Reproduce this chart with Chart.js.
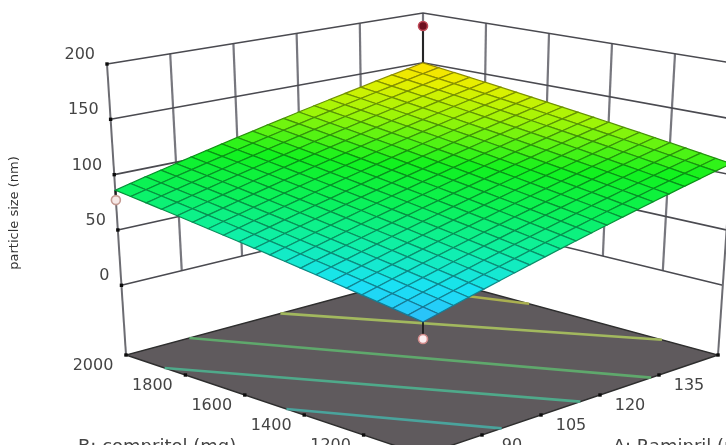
<!DOCTYPE html>
<html>
<head>
<meta charset="utf-8">
<script src="https://cdn.jsdelivr.net/npm/chart.js@4/dist/chart.umd.min.js"></script>
<style>
  html, body { margin: 0; padding: 0; background: #fff; overflow: hidden; }
  #chart { display: block; filter: blur(0.75px); }
</style>
</head>
<body>
<canvas id="chart" width="726" height="445"></canvas>
<script>
const aTicks = [75, 90, 105, 120, 135];
const bTicks = [2000, 1800, 1600, 1400, 1200];
const zTicks = [0, 50, 100, 150, 200];
const zFloor = -63;

const aGrid = [75, 78.75, 82.5, 86.25, 90, 93.75, 97.5, 101.25, 105, 108.75, 112.5, 116.25, 120, 123.75, 127.5, 131.25, 135, 138.75, 142.5, 146.25, 150];
const bGrid = [1000, 1050, 1100, 1150, 1200, 1250, 1300, 1350, 1400, 1450, 1500, 1550, 1600, 1650, 1700, 1750, 1800, 1850, 1900, 1950, 2000];

// particle size, one row per bGrid value, one column per aGrid value
const sizeRows = [
  [46,49.2,52.4,55.6,58.8,62,65.2,68.4,71.6,74.8,78,81.2,84.4,87.6,90.8,94,97.2,100.4,103.6,106.8,110],
  [48,51.2,54.4,57.6,60.8,64,67.2,70.4,73.6,76.8,80,83.2,86.4,89.6,92.8,96,99.2,102.4,105.6,108.8,112],
  [50,53.2,56.4,59.6,62.8,66,69.2,72.4,75.6,78.8,82,85.2,88.4,91.6,94.8,98,101.2,104.4,107.6,110.8,114],
  [52,55.2,58.4,61.6,64.8,68,71.2,74.4,77.6,80.8,84,87.2,90.4,93.6,96.8,100,103.2,106.4,109.6,112.8,116],
  [54,57.2,60.4,63.6,66.8,70,73.2,76.4,79.6,82.8,86,89.2,92.4,95.6,98.8,102,105.2,108.4,111.6,114.8,118],
  [56,59.2,62.4,65.6,68.8,72,75.2,78.4,81.6,84.8,88,91.2,94.4,97.6,100.8,104,107.2,110.4,113.6,116.8,120],
  [58,61.2,64.4,67.6,70.8,74,77.2,80.4,83.6,86.8,90,93.2,96.4,99.6,102.8,106,109.2,112.4,115.6,118.8,122],
  [60,63.2,66.4,69.6,72.8,76,79.2,82.4,85.6,88.8,92,95.2,98.4,101.6,104.8,108,111.2,114.4,117.6,120.8,124],
  [62,65.2,68.4,71.6,74.8,78,81.2,84.4,87.6,90.8,94,97.2,100.4,103.6,106.8,110,113.2,116.4,119.6,122.8,126],
  [64,67.2,70.4,73.6,76.8,80,83.2,86.4,89.6,92.8,96,99.2,102.4,105.6,108.8,112,115.2,118.4,121.6,124.8,128],
  [66,69.2,72.4,75.6,78.8,82,85.2,88.4,91.6,94.8,98,101.2,104.4,107.6,110.8,114,117.2,120.4,123.6,126.8,130],
  [68,71.2,74.4,77.6,80.8,84,87.2,90.4,93.6,96.8,100,103.2,106.4,109.6,112.8,116,119.2,122.4,125.6,128.8,132],
  [70,73.2,76.4,79.6,82.8,86,89.2,92.4,95.6,98.8,102,105.2,108.4,111.6,114.8,118,121.2,124.4,127.6,130.8,134],
  [72,75.2,78.4,81.6,84.8,88,91.2,94.4,97.6,100.8,104,107.2,110.4,113.6,116.8,120,123.2,126.4,129.6,132.8,136],
  [74,77.2,80.4,83.6,86.8,90,93.2,96.4,99.6,102.8,106,109.2,112.4,115.6,118.8,122,125.2,128.4,131.6,134.8,138],
  [76,79.2,82.4,85.6,88.8,92,95.2,98.4,101.6,104.8,108,111.2,114.4,117.6,120.8,124,127.2,130.4,133.6,136.8,140],
  [78,81.2,84.4,87.6,90.8,94,97.2,100.4,103.6,106.8,110,113.2,116.4,119.6,122.8,126,129.2,132.4,135.6,138.8,142],
  [80,83.2,86.4,89.6,92.8,96,99.2,102.4,105.6,108.8,112,115.2,118.4,121.6,124.8,128,131.2,134.4,137.6,140.8,144],
  [82,85.2,88.4,91.6,94.8,98,101.2,104.4,107.6,110.8,114,117.2,120.4,123.6,126.8,130,133.2,136.4,139.6,142.8,146],
  [84,87.2,90.4,93.6,96.8,100,103.2,106.4,109.6,112.8,116,119.2,122.4,125.6,128.8,132,135.2,138.4,141.6,144.8,148],
  [86,89.2,92.4,95.6,98.8,102,105.2,108.4,111.6,114.8,118,121.2,124.4,127.6,130.8,134,137.2,140.4,143.6,146.8,150],
];

// contour lines on the floor, [A, B] at each end
const contourEnds = [
  [[75, 1460], [95, 1000]],
  [[75, 1870], [115, 1000]],
  [[91, 2000], [133, 1000]],
  [[114, 2000], [150, 1190]],
  [[140, 2000], [150, 1640]],
];
const contourColors = ["#4aa39c", "#4fa98a", "#5fa86c", "#a2b85e", "#aab050"];

const pointA = [150, 75, 75];
const pointB = [2000, 1000, 2000];
const pointSize = [187, 32, 77];
const pointFill = ["#6e1020", "#fbeef0", "#f6e8e6"];
const pointEdge = ["#c04a58", "#d08a8a", "#c49a92"];

const COLOR_STOPS = [
  [46, [45, 188, 250]],
  [58, [26, 226, 245]],
  [72, [15, 240, 170]],
  [88, [10, 242, 90]],
  [105, [18, 242, 30]],
  [125, [156, 245, 8]],
  [140, [228, 240, 0]],
  [150, [255, 224, 0]],
];

// screen position of the plot box corners, [floor, top]
const CORNERS = {
  front: [[423, 455], [423, 134]],
  right: [[718, 355], [738, 64]],
  back: [[423, 275], [423, 13]],
  left: [[126, 355], [107, 64]],
};

function mix(a, b, t) {
  return a + (b - a) * t;
}

function project(A, B, z) {
  const u = (A - 75) / 75;
  const v = (B - 1000) / 1000;
  const w = (z - zFloor) / (200 - zFloor);
  const at = (k) => {
    const front = mix(CORNERS.front[0][k], CORNERS.front[1][k], w);
    const right = mix(CORNERS.right[0][k], CORNERS.right[1][k], w);
    const back = mix(CORNERS.back[0][k], CORNERS.back[1][k], w);
    const left = mix(CORNERS.left[0][k], CORNERS.left[1][k], w);
    return mix(mix(front, right, u), mix(left, back, u), v);
  };
  return { x: at(0), y: at(1) };
}

function sizeColor(z, dark) {
  let rgb = COLOR_STOPS[COLOR_STOPS.length - 1][1];
  for (let i = 0; i < COLOR_STOPS.length - 1; i++) {
    const [z0, c0] = COLOR_STOPS[i];
    const [z1, c1] = COLOR_STOPS[i + 1];
    if (z <= z1) {
      const t = Math.max(0, (z - z0) / (z1 - z0));
      rgb = c0.map((c, k) => mix(c, c1[k], t));
      break;
    }
  }
  const f = dark ? 0.6 : 1;
  return `rgb(${rgb.map((c) => Math.round(c * f)).join(",")})`;
}

function lineSet(points, color, width, order) {
  return {
    type: "scatter",
    data: points,
    showLine: true,
    borderColor: color,
    borderWidth: width,
    pointRadius: 0,
    order,
  };
}

const datasets = [];

// floor
datasets.push({
  ...lineSet(
    [project(75, 1000, zFloor), project(150, 1000, zFloor), project(150, 2000, zFloor), project(75, 2000, zFloor), project(75, 1000, zFloor)],
    "#2e2e2e", 1.4, 90
  ),
  polyFill: "#5f5a5d",
});

contourEnds.forEach((ends, i) => {
  const pts = ends.map(([A, B]) => project(A, B, zFloor));
  datasets.push(lineSet(pts, contourColors[i], 2.6, 85));
});

// back walls
zTicks.forEach((z) => {
  const pts = [project(75, 2000, z), project(150, 2000, z), project(150, 1000, z)];
  datasets.push(lineSet(pts, "#4a4a50", 1.6, 80));
});
aTicks.slice(1).concat([150]).forEach((A) => {
  datasets.push(lineSet([project(A, 2000, 0), project(A, 2000, 200)], "#77777e", 2.2, 81));
});
bTicks.slice(1).forEach((B) => {
  datasets.push(lineSet([project(150, B, 0), project(150, B, 200)], "#77777e", 2.2, 81));
});
datasets.push(lineSet([project(75, 2000, zFloor), project(75, 2000, 200)], "#6c6c72", 2, 79));
datasets.push(lineSet([project(150, 1000, zFloor), project(150, 1000, 200)], "#6c6c72", 2, 79));

// stems going below the surface sit under it
pointA.forEach((A, i) => {
  const jA = aGrid.indexOf(A);
  const jB = bGrid.indexOf(pointB[i]);
  const stem = [project(A, pointB[i], sizeRows[jB][jA]), project(A, pointB[i], pointSize[i])];
  datasets.push(lineSet(stem, "#1c1c1c", 1.8, 60));
});

// surface cells
for (let i = 0; i < bGrid.length - 1; i++) {
  for (let j = 0; j < aGrid.length - 1; j++) {
    const pts = [
      project(aGrid[j], bGrid[i], sizeRows[i][j]),
      project(aGrid[j + 1], bGrid[i], sizeRows[i][j + 1]),
      project(aGrid[j + 1], bGrid[i + 1], sizeRows[i + 1][j + 1]),
      project(aGrid[j], bGrid[i + 1], sizeRows[i + 1][j]),
      project(aGrid[j], bGrid[i], sizeRows[i][j]),
    ];
    const mean = (sizeRows[i][j] + sizeRows[i][j + 1] + sizeRows[i + 1][j] + sizeRows[i + 1][j + 1]) / 4;
    datasets.push({
      ...lineSet(pts, sizeColor(mean, true), 1.2, 50),
      polyFill: sizeColor(mean, false),
    });
  }
}

// tick dots
const tickDots = [
  ...zTicks.map((z) => project(75, 2000, z)),
  ...bTicks.slice(1).map((B) => project(75, B, zFloor)),
  project(75, 2000, zFloor),
  ...aTicks.slice(1).map((A) => project(A, 1000, zFloor)),
  project(150, 1000, zFloor),
];
datasets.push({
  type: "scatter",
  data: tickDots,
  pointStyle: "rect",
  pointRadius: 2.4,
  pointBackgroundColor: "#0c0c0c",
  pointBorderWidth: 0,
  order: 20,
});

// design points
datasets.push({
  type: "scatter",
  data: pointA.map((A, i) => project(A, pointB[i], pointSize[i])),
  pointRadius: 4.5,
  pointBackgroundColor: pointFill,
  pointBorderColor: pointEdge,
  pointBorderWidth: 1.6,
  order: 10,
});

const polyFill = {
  id: "polyFill",
  beforeDatasetDraw(chart, args) {
    const color = chart.data.datasets[args.index].polyFill;
    if (!color) return;
    const ctx = chart.ctx;
    ctx.save();
    ctx.beginPath();
    args.meta.data.forEach((p, i) => (i ? ctx.lineTo(p.x, p.y) : ctx.moveTo(p.x, p.y)));
    ctx.closePath();
    ctx.fillStyle = color;
    ctx.fill();
    ctx.restore();
  },
};

const axisText = {
  id: "axisText",
  afterDatasetsDraw(chart) {
    const { ctx, scales } = chart;
    const px = (p) => ({ x: scales.x.getPixelForValue(p.x), y: scales.y.getPixelForValue(p.y) });
    ctx.save();
    ctx.fillStyle = "#444";
    ctx.textBaseline = "middle";
    ctx.font = '16px "DejaVu Sans"';

    ctx.textAlign = "right";
    zTicks.forEach((z) => {
      const p = px(project(75, 2000, z));
      ctx.fillText(String(z), p.x - 12, p.y - 9);
    });

    ctx.textAlign = "center";
    bTicks.forEach((B) => {
      const p = px(project(75, B, zFloor));
      ctx.fillText(String(B), p.x - 33, p.y + 11);
    });
    aTicks.slice(1).forEach((A) => {
      const p = px(project(A, 1000, zFloor));
      ctx.fillText(String(A), p.x + 30, p.y + 11);
    });

    ctx.font = '18px "DejaVu Sans"';
    ctx.textAlign = "left";
    ctx.fillText("B: compritol (mg)", 78, 447);
    ctx.fillText("A: Ramipril (mg)", 613, 447);

    ctx.font = '13px "DejaVu Sans"';
    ctx.fillStyle = "#333";
    ctx.textAlign = "center";
    ctx.translate(15, 213);
    ctx.rotate(-Math.PI / 2);
    ctx.fillText("particle size (nm)", 0, 0);
    ctx.restore();
  },
};

new Chart(document.getElementById("chart"), {
  data: { datasets },
  plugins: [polyFill, axisText],
  options: {
    responsive: false,
    animation: false,
    events: [],
    layout: { padding: 0, autoPadding: false },
    clip: false,
    plugins: { legend: { display: false }, tooltip: { enabled: false } },
    scales: {
      x: { type: "linear", min: 0, max: 726, display: false },
      y: { type: "linear", min: 0, max: 445, reverse: true, display: false },
    },
  },
});
</script>
</body>
</html>
